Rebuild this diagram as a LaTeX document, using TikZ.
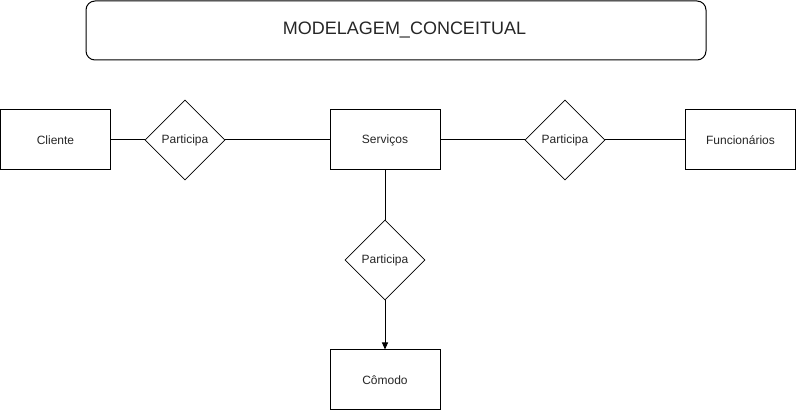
\documentclass[tikz,border=0pt]{standalone}
\usepackage{fontspec}
\setmainfont{Liberation Sans}
\usetikzlibrary{shapes.geometric,arrows.meta}
\begin{document}
\begin{tikzpicture}[x=1pt,y=-1pt,
  entity/.style={draw=black,line width=1pt,minimum width=110pt,minimum height=60pt,inner sep=0pt,font=\fontsize{12}{14}\selectfont,text=black!85},
  relation/.style={draw=black,line width=0.8pt,diamond,minimum width=80pt,minimum height=80pt,inner sep=0pt,font=\fontsize{12}{14}\selectfont,text=black!85},
  link/.style={draw=black,line width=1pt}]
\useasboundingbox (0,0) rectangle (796,411);
\draw[line width=1pt,rounded corners=9pt] (86,1) rectangle (706,60);
\node[font=\fontsize{18}{21}\selectfont,text=black!85] (title) at (404.5,30.5) {MODELAGEM\_CONCEITUAL};
\node[entity] (cliente) at (55.5,140) {Cliente};
\node[relation] (p1) at (185,140) {Participa};
\node[entity] (serv) at (385,140) {Serviços};
\node[relation] (p2) at (565,140) {Participa};
\node[entity] (func) at (740.5,140) {Funcionários};
\node[relation] (p3) at (385,260) {Participa};
\node[entity] (comodo) at (385,380) {Cômodo};
\draw[link] (cliente) -- (p1);
\draw[link] (p1) -- (serv);
\draw[link] (serv) -- (p2);
\draw[link] (p2) -- (func);
\draw[link] (serv) -- (p3);
\draw[link,-{Triangle[length=7pt,width=6pt]}] (p3) -- (comodo);
\end{tikzpicture}
\end{document}
